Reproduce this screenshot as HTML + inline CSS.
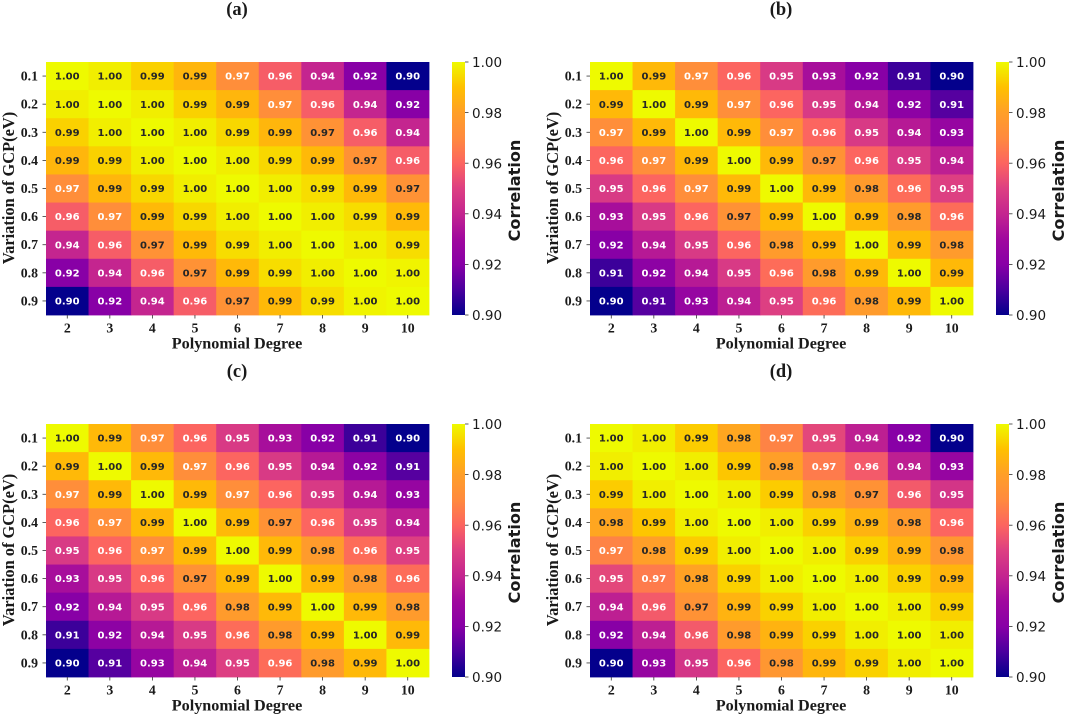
<!DOCTYPE html>
<html lang="en">
<head>
<meta charset="utf-8">
<title>Correlation heatmaps</title>
<style>
html,body{margin:0;padding:0;background:#fff;}
svg{display:block;filter:blur(0.35px);}
.serif{font-family:"Liberation Serif",serif;font-weight:bold;fill:#1a1a1a;}
.sans{font-family:"DejaVu Sans",sans-serif;}
</style>
</head>
<body>
<svg id="figure" xmlns="http://www.w3.org/2000/svg" width="1065" height="715" viewBox="0 0 1065 715">
<defs>
<linearGradient id="plasma-gradient" x1="0" y1="1" x2="0" y2="0"></linearGradient>
</defs>
</svg>
<script>
const degrees = ["2","3","4","5","6","7","8","9","10"];
const variations = ["0.1","0.2","0.3","0.4","0.5","0.6","0.7","0.8","0.9"];
const colorbarTicks = [0.90,0.92,0.94,0.96,0.98,1.00];
const panelLabels = ["(a)","(b)","(c)","(d)"];
const valuesA = [
[1.000,.998,.993,.987,.972,.958,.940,.920,.900],
[.998,1.000,.998,.993,.987,.972,.958,.940,.920],
[.993,.998,1.000,.998,.994,.987,.974,.958,.940],
[.987,.993,.998,1.000,.998,.994,.988,.974,.958],
[.972,.987,.994,.998,1.000,.998,.995,.988,.974],
[.958,.972,.988,.994,.998,1.000,.998,.995,.988],
[.940,.958,.974,.988,.995,.998,1.000,.998,.995],
[.920,.940,.958,.974,.988,.995,.998,1.000,.999],
[.900,.920,.940,.958,.974,.988,.995,.999,1.000]];
const valuesB = [
[1.000,.988,.972,.960,.948,.932,.920,.908,.900],
[.988,1.000,.988,.972,.960,.948,.936,.922,.912],
[.972,.988,1.000,.988,.972,.960,.948,.936,.926],
[.960,.972,.988,1.000,.988,.974,.960,.948,.938],
[.948,.960,.972,.988,1.000,.988,.978,.962,.950],
[.932,.948,.960,.974,.988,1.000,.988,.978,.962],
[.920,.936,.948,.960,.978,.988,1.000,.988,.978],
[.908,.922,.936,.948,.962,.978,.988,1.000,.988],
[.900,.912,.926,.938,.950,.962,.978,.988,1.000]];
const valuesC = [
[1.000,.988,.972,.960,.948,.932,.920,.908,.900],
[.988,1.000,.988,.972,.960,.948,.936,.922,.912],
[.972,.988,1.000,.988,.972,.960,.948,.936,.926],
[.960,.972,.988,1.000,.988,.974,.960,.948,.938],
[.948,.960,.972,.988,1.000,.988,.978,.962,.950],
[.932,.948,.960,.974,.988,1.000,.988,.978,.962],
[.920,.936,.948,.960,.978,.988,1.000,.988,.978],
[.908,.922,.936,.948,.962,.978,.988,1.000,.988],
[.900,.912,.926,.938,.950,.962,.978,.988,1.000]];
const valuesD = [
[1.000,.998,.992,.982,.968,.952,.938,.920,.900],
[.998,1.000,.998,.991,.980,.966,.957,.938,.926],
[.992,.998,1.000,.998,.992,.981,.974,.957,.946],
[.982,.991,.998,1.000,.998,.993,.986,.978,.960],
[.968,.980,.992,.998,1.000,.998,.993,.986,.976],
[.952,.966,.981,.993,.998,1.000,.998,.993,.987],
[.938,.957,.974,.986,.993,.998,1.000,.998,.993],
[.920,.938,.957,.978,.986,.993,.998,1.000,.998],
[.900,.926,.946,.960,.976,.987,.993,.998,1.000]];

const plasmaStops = ["#04008c","#4a009e","#8800a6","#a0089e","#c4258f","#dd3f82","#fc6560","#ff8a3e","#ff9f28","#ffc000","#eefa00"];
const NS = "http://www.w3.org/2000/svg";
const svg = document.getElementById("figure");
const domainMin = 0.9, domainMax = 1.0;

function hexToRgb(h){ return [1,3,5].map(i => parseInt(h.substr(i,2),16)); }
function colorFor(v){
  const t = Math.max(0, Math.min(1, (v-domainMin)/(domainMax-domainMin))) * (plasmaStops.length-1);
  const i = Math.min(Math.floor(t), plasmaStops.length-2), f = t-i;
  const a = hexToRgb(plasmaStops[i]), b = hexToRgb(plasmaStops[i+1]);
  return "rgb(" + a.map((c,k)=>Math.round(c+(b[k]-c)*f)).join(",") + ")";
}
function make(tag, attrs, text){
  const el = document.createElementNS(NS, tag);
  for (const k in attrs) el.setAttribute(k, attrs[k]);
  if (text !== undefined) el.textContent = text;
  svg.appendChild(el);
  return el;
}
const grad = document.getElementById("plasma-gradient");
plasmaStops.forEach((c,i)=>{
  const s = document.createElementNS(NS,"stop");
  s.setAttribute("offset", i/(plasmaStops.length-1));
  s.setAttribute("stop-color", c);
  grad.appendChild(s);
});

function drawPanel(key, label, matrix, left, top){
  const width = 383, height = 253;
  const xScale = c => left + width*c/degrees.length;
  const yScale = r => top + height*r/variations.length;
  const cw = width/degrees.length, ch = height/variations.length;

  let el = make("text",{x:left+191,y:top-47,"text-anchor":"middle",class:"serif","font-size":18.5},label);
  
  

  matrix.forEach((row,r)=>row.forEach((v,c)=>{
    const cell = make("rect",{x:xScale(c),y:yScale(r),width:cw+0.4,height:ch+0.4,fill:colorFor(v)});
    
    
  }));
  matrix.forEach((row,r)=>row.forEach((v,c)=>{
    const t = make("text",{x:xScale(c)+cw/2,y:yScale(r)+ch/2+3.6,"text-anchor":"middle",class:"sans","font-size":10,"font-weight":"bold",fill:v<0.973?"#ffffff":"#262626"},v.toFixed(2));
    
    
  }));

  degrees.forEach((d,c)=>{
    const x = xScale(c)+cw/2;
    const tk = make("line",{x1:x,x2:x,y1:top+height,y2:top+height+3.5,stroke:"#333","stroke-width":0.8});
    
    
    const lb = make("text",{x:x,y:top+height+17.4,"text-anchor":"middle",class:"serif","font-size":13.8},d);
    
    
  });
  variations.forEach((d,r)=>{
    const y = yScale(r)+ch/2;
    const tk = make("line",{x1:left-3.5,x2:left,y1:y,y2:y,stroke:"#333","stroke-width":0.8});
    
    
    const lb = make("text",{x:left-8,y:y+4.5,"text-anchor":"end",class:"serif","font-size":13.8},d);
    
    
  });

  el = make("text",{x:left+191,y:top+height+33.6,"text-anchor":"middle",class:"serif","font-size":16.2},"Polynomial Degree");
  
  
  el = make("text",{transform:"translate("+(left-32)+","+(top+126)+") rotate(-90)","text-anchor":"middle",class:"serif","font-size":16.4},"Variation of GCP(eV)");
  
  

  const barX = left+406, barW = 13;
  const barScale = v => top+height-(v-domainMin)/(domainMax-domainMin)*height;
  el = make("rect",{x:barX,y:top,width:barW,height:height,fill:"url(#plasma-gradient)"});
  
  
  colorbarTicks.forEach(v=>{
    const y = barScale(v);
    const tk = make("line",{x1:barX+barW,x2:barX+barW+3.5,y1:y,y2:y,stroke:"#333","stroke-width":0.8});
    
    
    const lb = make("text",{x:barX+barW+7,y:y+5.2,class:"sans","font-size":13.5,fill:"#1a1a1a"},v.toFixed(2));
    
    
  });
  el = make("text",{transform:"translate("+(left+474)+","+(top+128.5)+") rotate(-90)","text-anchor":"middle",class:"sans","font-size":16.1,"font-weight":"bold",fill:"#1a1a1a"},"Correlation");
  
  
}
drawPanel("a",panelLabels[0],valuesA,46,62);
drawPanel("b",panelLabels[1],valuesB,590,62);
drawPanel("c",panelLabels[2],valuesC,46,424);
drawPanel("d",panelLabels[3],valuesD,590,424);
</script>
</body>
</html>
